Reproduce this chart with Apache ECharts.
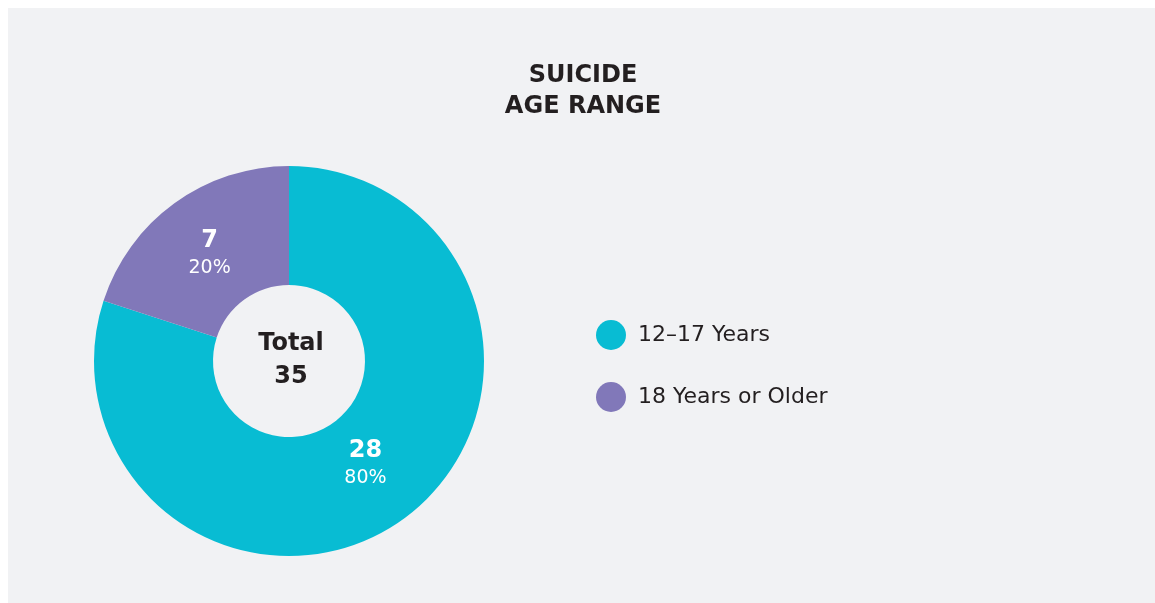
<!DOCTYPE html>
<html>
<head>
<meta charset="utf-8">
<script src="https://cdn.jsdelivr.net/npm/echarts@6/dist/echarts.min.js"></script>
<style>
html,body{margin:0;padding:0;background:#ffffff;}
#chart{position:absolute;left:8px;top:8px;width:1147px;height:595px;background:#f1f2f4;}
</style>
</head>
<body>
<div id="chart"></div>
<script>
const categories = ['12\u201317 Years', '18 Years or Older'];
const values = [28, 7];
const colors = ['#08bcd3', '#8178b9'];
const titleText = 'SUICIDE\nAGE RANGE';
const totalLabel = 'Total';

const total = values.reduce((a, b) => a + b, 0);
const FONT = 'DejaVu Sans';
const labelOffsets = [[-5, -9], [2, 5]];
const chart = echarts.init(document.getElementById('chart'));
chart.setOption({
  backgroundColor: '#f1f2f4',
  textStyle: { fontFamily: FONT },
  title: [{
    text: titleText,
    left: 570, top: 47, textAlign: 'center',
    textStyle: { fontFamily: FONT, fontSize: 24, fontWeight: 'bold', color: '#231f20', lineHeight: 31 }
  }, {
    text: totalLabel + '\n' + total,
    left: 278, top: 314, textAlign: 'center',
    textStyle: { fontFamily: FONT, fontSize: 24, fontWeight: 'bold', color: '#231f20', lineHeight: 33 }
  }],
  legend: {
    orient: 'vertical',
    left: 583, top: 307,
    icon: 'circle',
    itemWidth: 30, itemHeight: 30, itemGap: 32,
    textStyle: { fontFamily: FONT, fontSize: 22, color: '#231f20', padding: [0, 0, 0, 7] },
    data: categories
  },
  series: [{
    type: 'pie',
    center: [281, 353],
    radius: [76, 195],
    startAngle: 90,
    clockwise: true,
    silent: true,
    animation: false,
    data: categories.map((c, i) => ({
      name: c, value: values[i], itemStyle: { color: colors[i] },
      label: { offset: labelOffsets[i] }
    })),
    label: {
      show: true,
      position: 'inside',
      formatter: p => '{a|' + p.value + '}\n{b|' + Math.round(p.percent) + '%}',
      rich: {
        a: { fontFamily: FONT, fontSize: 24, fontWeight: 'bold', color: '#ffffff', lineHeight: 28 },
        b: { fontFamily: FONT, fontSize: 19, color: '#ffffff', lineHeight: 26 }
      }
    },
    labelLine: { show: false }
  }]
});
</script>
</body>
</html>
